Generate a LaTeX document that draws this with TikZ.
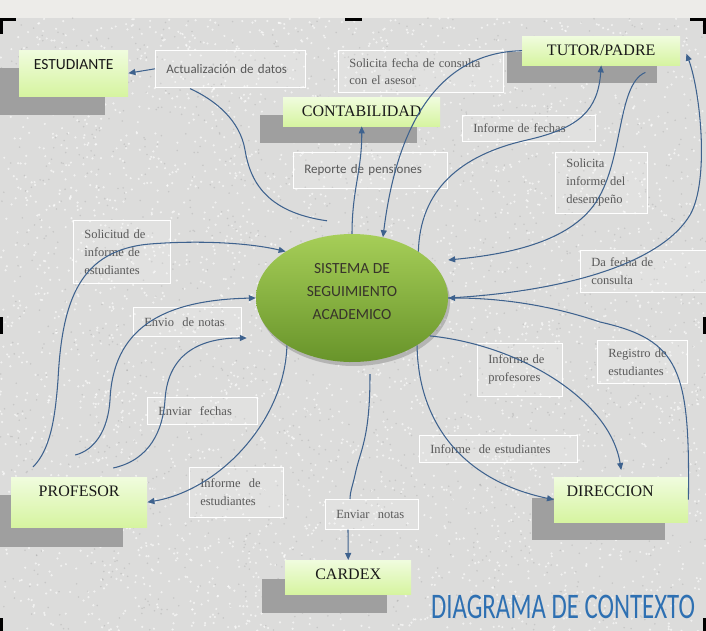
\documentclass[tikz,border=0pt]{standalone}
\usepackage{fontspec}
\setmainfont{Liberation Serif}
\newfontfamily\calfont{Carlito}
\usetikzlibrary{shapes,shapes.geometric,arrows.meta,calc}
\definecolor{flowblue}{RGB}{62,98,142}
\definecolor{bgtex}{RGB}{220,220,219}
\definecolor{bgtop}{RGB}{237,236,233}
\definecolor{entlight}{RGB}{240,252,222}
\definecolor{entgreen}{RGB}{214,244,160}
\definecolor{systop}{RGB}{166,206,88}
\definecolor{sysmid}{RGB}{142,186,66}
\definecolor{sysbot}{RGB}{104,148,42}
\definecolor{titleblue}{RGB}{46,112,178}
\tikzset{
  ent_s/.style = {fill=gray!75},
  ent_n/.style = {rectangle, inner sep=0pt, anchor=north west, top color=entlight, bottom color=entgreen},
  ent_t/.style = {anchor=north, inner sep=9pt, font=\fontsize{16}{18}\selectfont, text=black!90},
  sys_n/.style = {ellipse, inner sep=0pt, minimum width=192pt, minimum height=128pt,
    top color=systop, middle color=sysmid, bottom color=sysbot, text=black!80!olive,
    font=\calfont\fontsize{15.5}{23}\selectfont},
  flow_l/.style = {rectangle, anchor=north west, draw=white, line width=.6pt, fill=white, fill opacity=.15,
    text opacity=1, text=black!65, inner xsep=11pt, inner ysep=0pt, align=left,
    font=\fontsize{12.5}{18}\selectfont},
  flow_c/.style = {flow_l, font=\calfont\fontsize{13}{18}\selectfont},
  flow_n/.style = {draw=flowblue, line width=1.05pt},
  flow_a/.style = {flow_n, -{Triangle[length=7pt,width=6pt]}},
  corner_m/.style = {line width=3.5pt, black}
}
\begin{document}
\begin{tikzpicture}[x=1pt,y=-1pt]
\useasboundingbox (0,0) rectangle (706,631);
\fill[bgtop] (0,0) rectangle (706,18);
\fill[bgtex] (0,18) rectangle (706,631);
\pgfmathsetseed{7}
\foreach \i in {1,...,3500}
	\fill[white,opacity=.6] ({rnd*706},{18+rnd*613}) circle (1.2);
\foreach \i in {1,...,1500}
	\fill[gray,opacity=.22] ({rnd*706},{18+rnd*613}) circle (0.9);
% marcas de la diapositiva
\draw[corner_m] (1.7,34) -- (1.7,19.7) -- (16,19.7);
\draw[corner_m] (345,19.7) -- (362,19.7);
\draw[corner_m] (690,19.7) -- (704.3,19.7) -- (704.3,34);
\draw[corner_m] (1.7,317) -- (1.7,334);
\draw[corner_m] (704.3,317) -- (704.3,334);
\draw[corner_m] (1.7,618) -- (1.7,631);
\draw[corner_m] (704.3,618) -- (704.3,631);
% entidades externas
\fill[ent_s] (0,68) rectangle (105,115);
\node[ent_n, minimum width=109pt, minimum height=46pt,
  label={[ent_t, font=\calfont\fontsize{15.5}{18}\selectfont]north:ESTUDIANTE}] (estudiante) at (19,50) {};
\fill[ent_s] (260,115) rectangle (417,143);
\node[ent_n, minimum width=157pt, minimum height=29pt, label={[ent_t]north:CONTABILIDAD}] (contab) at (283,97) {};
\fill[ent_s] (507,52) rectangle (657,83);
\node[ent_n, minimum width=158pt, minimum height=29pt, label={[ent_t]north:TUTOR/PADRE}] (tutor) at (522,36) {};
\fill[ent_s] (0,495) rectangle (123,547);
\node[ent_n, minimum width=136pt, minimum height=50pt, label={[ent_t]north:PROFESOR}] (profesor) at (11,477) {};
\fill[ent_s] (262,579) rectangle (387,613);
\node[ent_n, minimum width=126pt, minimum height=34pt, label={[ent_t]north:CARDEX}] (cardex) at (285,560) {};
\fill[ent_s] (532,498) rectangle (665,540);
\node[ent_n, minimum width=134pt, minimum height=45pt, label={[ent_t, xshift=-11pt]north:DIRECCION}] (direccion) at (554,477) {};
% proceso
\fill[black, opacity=.18] (354,302) ellipse (96 and 64);
\node[sys_n] (sistema) at (352,298) {\raisebox{3pt}[0pt][0pt]{\begin{tabular}{@{}c@{}}SISTEMA DE\\SEGUIMIENTO\\ACADEMICO\end{tabular}}};
% flujos
\node[flow_c, text width=128pt, minimum height=37pt] (l_act) at (155,50) {Actualización de datos};
\node[flow_l, text width=143pt, minimum height=42pt, font=\fontsize{12.5}{17}\selectfont] (l_sol) at (338,50) {Solicita fecha de consulta\\con el asesor};
\node[flow_c, text width=132pt, minimum height=36pt] (l_rep) at (293,152) {Reporte de pensiones};
\node[flow_l, text width=111pt, minimum height=26pt] (l_fec) at (462,115) {Informe de fechas};
\node[flow_l, text width=70pt, minimum height=61pt] (l_des) at (555,152) {Solicita\\informe del\\desempeño};
\node[flow_l, text width=75pt, minimum height=63pt] (l_soe) at (73,220) {Solicitud de\\informe de\\estudiantes};
\node[flow_l, text width=104pt, minimum height=42pt] (l_dfc) at (580,250) {Da fecha de\\consulta};
\node[flow_l, text width=86pt, minimum height=29pt] (l_env) at (133,307) {Envio \ de notas};
\node[flow_l, text width=88pt, minimum height=27pt] (l_enf) at (147,397) {Enviar \ fechas};
\node[flow_l, text width=63pt, minimum height=53pt] (l_ipr) at (477,343) {Informe de\\profesores};
\node[flow_l, text width=68pt, minimum height=43pt] (l_reg) at (597,340) {Registro de\\estudiantes};
\node[flow_l, text width=136pt, minimum height=27pt] (l_ied) at (419,435) {Informe \ de estudiantes};
\node[flow_l, text width=72pt, minimum height=50pt] (l_iep) at (189,467) {Informe \ de\\estudiantes};
\node[flow_l, text width=71pt, minimum height=30pt] (l_ent) at (325,499) {Enviar \ notas};
\draw[flow_a] (l_act.west) -- (estudiante.east);
\draw[flow_n] ($(sistema.north)+(-25,-13)$) .. controls (265,212) and (250,180) .. (245,150)
  .. controls (240,120) and (215,100) .. ($(l_act.south west)+(35,1)$);
\draw[flow_a] (sistema.north) .. controls (352,190) and (362,170) .. (contab.south);
\draw[flow_a] (tutor.west) .. controls (455,52) and (400,100) .. (sistema.63);
\draw[flow_a] (sistema.35) .. controls (420,190) and (460,155) .. (527,140)
  .. controls (580,128) and (598,110) .. (tutor.south);
\draw[flow_a] ($(tutor.south east)+(-35,7)$) .. controls (615,85) and (625,170) .. (590,210)
  .. controls (560,245) and (500,255) .. ($(sistema.east)+(0,-38)$);
\draw[flow_a] (sistema.east) .. controls (560,292) and (660,265) .. (690,215)
  .. controls (710,180) and (700,90) .. ($(tutor.east)+(6,3)$);
\draw[flow_a] (direccion.east) .. controls (690,370) and (680,340) .. (600,322)
  .. controls (550,305) and (500,298) .. (sistema.east);
\draw[flow_a] (sistema.-26) .. controls (520,345) and (610,400) .. ($(direccion.north)+(0,-7)$);
\draw[flow_a] (sistema.-36) .. controls (418,420) and (460,480) .. (direccion.west);
\draw[flow_a] (sistema.-144) .. controls (285,420) and (220,490) .. (profesor.east);
\draw[flow_n] ($(sistema.south)+(18,12)$) .. controls (370,440) and (360,450) .. (355,475)
  .. controls (352,488) and (350,492) .. ($(l_ent.north west)+(25,0)$);
\draw[flow_a] ($(l_ent.south west)+(23,0)$) -- (cardex.north);
\draw[flow_a] ($(profesor.north west)+(22,-10)$) .. controls (50,450) and (55,420) .. (58,380)
  .. controls (62,300) and (80,250) .. (150,244) .. controls (200,240) and (250,243) .. (sistema.145);
\draw[flow_a] ($(profesor.north)+(-4,-22)$) .. controls (95,450) and (108,430) .. (110,400)
  .. controls (113,330) and (160,300) .. (sistema.west);
\draw[flow_a] ($(profesor.north)+(34,-9)$) .. controls (150,460) and (163,430) .. (165,400)
  .. controls (168,350) and (205,338) .. ($(sistema.west)+(-9,40)$);
% titulo
\node[text=titleblue, font=\calfont\fontsize{36}{40}\selectfont] (titulo) at (563,607) {\scalebox{0.69}[1]{DIAGRAMA DE CONTEXTO}};
\end{tikzpicture}
\end{document}
